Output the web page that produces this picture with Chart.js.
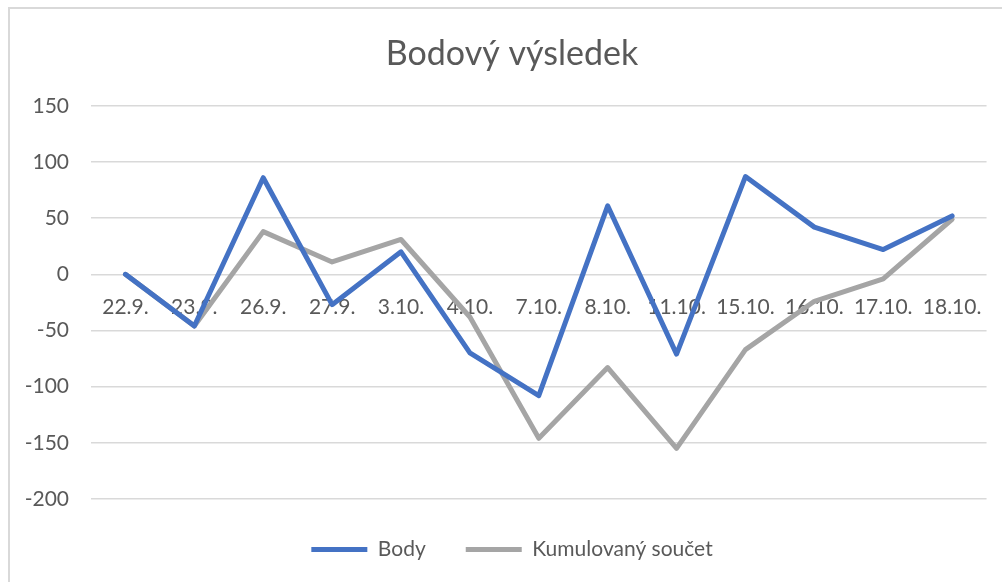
<!DOCTYPE html>
<html>
<head>
<meta charset="utf-8">
<script src="https://cdn.jsdelivr.net/npm/chart.js@4"></script>
<style>
    html, body { margin: 0; padding: 0; background: #fff; overflow: hidden; }
    #frame {
        position: absolute; left: 8px; top: 7px; width: 1010px; height: 590px;
        border: 2px solid #d9d9d9; box-sizing: border-box;
    }
    #wrap { position: absolute; left: 0; top: 0; width: 1002px; height: 582px; }
</style>
</head>
<body>
<div id="frame"></div>
<div id="wrap"><canvas id="lineChart"></canvas></div>
<script>
const labels = ['22.9.', '23.9.', '26.9.', '27.9.', '3.10.', '4.10.', '7.10.', '8.10.', '11.10.', '15.10.', '16.10.', '17.10.', '18.10.'];
const body = [0, -46, 86, -27, 20, -70, -108, 61, -71, 87, 42, 22, 52];
const kumulovany = [0, -46, 38, 11, 31, -38, -146, -83, -155, -67, -24, -4, 49];
const yMin = -200;
const yMax = 150;
const yStep = 50;

document.addEventListener('DOMContentLoaded', () => {

    const textColor = '#595959';
    const ctx = document.getElementById('lineChart').getContext('2d');

    // y labels sit partly inside the left layout padding, so widen their clip box
    const unclipY = {
        id: 'unclipY',
        afterLayout(chart) {
            chart.scales.y.left = 0;
        }
    };

    new Chart(ctx, {
        type: 'line',
        data: {
            labels: labels,
            datasets: [
                {
                    label: 'Body',
                    data: body,
                    borderColor: '#4472c4',
                    backgroundColor: '#4472c4',
                    borderWidth: 5,
                    borderJoinStyle: 'round',
                    borderCapStyle: 'round',
                    pointRadius: 0,
                    tension: 0
                },
                {
                    label: 'Kumulovaný součet',
                    data: kumulovany,
                    borderColor: '#a5a5a5',
                    backgroundColor: '#a5a5a5',
                    borderWidth: 5,
                    borderJoinStyle: 'round',
                    borderCapStyle: 'round',
                    pointRadius: 0,
                    tension: 0
                }
            ]
        },
        plugins: [unclipY],
        options: {
            responsive: true,
            maintainAspectRatio: false,
            animation: false,
            // left/right padding centres title + legend where Excel put them
            layout: { padding: { left: 37, right: 15, top: 0, bottom: 12 } },
            plugins: {
                title: {
                    display: true,
                    text: 'Bodový výsledek',
                    color: textColor,
                    font: { family: 'Lato', size: 34, weight: 'normal' },
                    padding: { top: 34, bottom: 31 }
                },
                legend: {
                    position: 'bottom',
                    labels: {
                        color: textColor,
                        font: { family: 'Lato', size: 21 },
                        usePointStyle: true,
                        pointStyle: 'line',
                        pointStyleWidth: 56,
                        padding: 40
                    }
                },
                tooltip: { enabled: false }
            },
            scales: {
                x: {
                    position: { y: 0 },
                    offset: true,
                    grid: { display: false, drawTicks: false },
                    border: { display: false },
                    ticks: {
                        color: textColor,
                        font: { family: 'Lato', size: 21 },
                        padding: 20,
                        maxRotation: 0,
                        autoSkip: false
                    }
                },
                y: {
                    min: yMin,
                    max: yMax,
                    grid: { color: '#d9d9d9', lineWidth: 1.5, drawTicks: false },
                    border: { display: false },
                    afterFit: (scale) => { scale.width = 54; },
                    ticks: {
                        stepSize: yStep,
                        color: textColor,
                        font: { family: 'Lato', size: 21 },
                        padding: 22
                    }
                }
            }
        }
    });
});
</script>
</body>
</html>
